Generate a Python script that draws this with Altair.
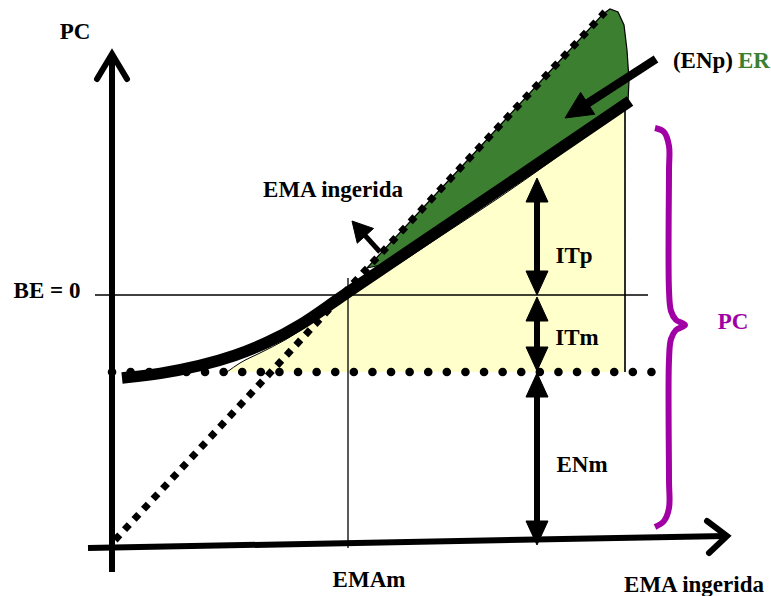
import altair as alt
import pandas as pd
import numpy as np

W, H = 771, 596
FONT = "Liberation Serif"
GREEN = "#3d7f31"
PURPLE = "#a000a4"
YELLOW = "#ffffcc"
FS = 23

# ---- diagram data (pixel-space coordinates of the conceptual chart) ----
curve_x = [122, 160, 200, 235, 267, 300, 333, 348, 420, 520, 630]
curve_y = [378, 374, 366, 356, 343, 326, 302.5, 292, 243.5, 176, 101]

diag_x = [115, 605]
diag_y = [540, 12]

dots_x = [112, 655]
dots_y = [372, 372]

be_x = [95, 648]
be_y = [295, 295]

emam_x = [348, 348]
emam_y = [278, 548]

right_x = [625, 625]
right_y = [106, 372]

yel_x = [227, 240, 260, 285, 310, 348, 400, 450, 500, 550, 600, 625, 625]
yel_y = [372, 363, 353, 340, 324, 296, 263, 230, 197, 162, 125, 107, 372]

green_x = [367, 420, 480, 540, 580, 603, 610, 618, 624, 627, 629, 628, 600, 550, 500, 450, 400, 367]
green_y = [268, 211, 147, 82, 39, 14, 9, 12, 25, 50, 80, 102, 124, 160, 195, 228, 261, 268]

yaxis_x = [112, 112]
yaxis_y = [572, 55]
ychev_x = [97, 112, 127]
ychev_y = [79, 54, 79]

xaxis_x = [88, 726]
xaxis_y = [548, 536]
xchev_x = [707, 727, 709]
xchev_y = [521, 536, 553]

brace_x = [655, 664, 669, 669, 669, 671, 676, 685, 676, 671, 669, 669, 669, 664, 655]
brace_y = [128, 132, 146, 170, 290, 311, 320, 325, 330, 339, 360, 480, 508, 521, 527]

# arrows: (tail_x, tail_y, tip_x, tip_y, head_len, head_width, shaft_width)
arrows = [
    (380, 252, 352, 221, 20, 22, 5),   # EMA ingerida
    (656, 59, 565, 118, 27, 26, 8.5),  # (ENp) ER
    (537, 236, 537, 178, 24, 22, 6),   # ITp up
    (537, 236, 537, 295, 24, 22, 6),   # ITp down
    (537, 334, 537, 297, 24, 22, 6),   # ITm up
    (537, 334, 537, 371, 24, 22, 6),   # ITm down
    (537, 460, 537, 373, 24, 22, 6),   # ENm up
    (537, 460, 537, 545, 24, 22, 6),   # ENm down
]

label_text = ["PC", "BE = 0", "EMA ingerida", "ITp", "ITm", "ENm", "EMAm", "EMA ingerida"]
label_x = [75, 47, 333, 574, 577, 582, 369, 694]
label_y = [32, 291, 190, 256, 338, 465, 580, 585]

# ---- build tables ----
X = alt.X("x:Q", scale=alt.Scale(domain=[0, W], nice=False, zero=False), axis=None)
Y = alt.Y("y:Q", scale=alt.Scale(domain=[0, H], nice=False, zero=False, reverse=True), axis=None)


def seq(xs, ys, grp="a"):
    return pd.DataFrame({"x": xs, "y": ys, "o": range(len(xs)), "g": grp})


def line(xs, ys, **kw):
    return alt.Chart(seq(xs, ys)).mark_line(**kw).encode(x=X, y=Y, order="o:Q")


def poly(df, **kw):
    return alt.Chart(df).mark_line(**kw).encode(x=X, y=Y, order="o:Q", detail="g:N")


shafts = []
heads = []
for i, (tx0, ty0, tx1, ty1, hl, hw, sw) in enumerate(arrows):
    d = np.array([tx1 - tx0, ty1 - ty0], dtype=float)
    d /= np.linalg.norm(d)
    p = np.array([-d[1], d[0]])
    tip = np.array([tx1, ty1], dtype=float)
    base = tip - hl * d
    a = base + p * hw / 2
    b = base - p * hw / 2
    heads.append(seq([tip[0], a[0], b[0], tip[0]], [tip[1], a[1], b[1], tip[1]], f"h{i}"))
    shafts.append((seq([tx0, base[0] + d[0] * 2], [ty0, base[1] + d[1] * 2], f"s{i}"), sw))

layers = []
# fills
layers.append(poly(seq(yel_x, yel_y, "yel"), fill=YELLOW, stroke="black", strokeWidth=1, interpolate="monotone"))
layers.append(poly(seq(green_x, green_y, "grn"), fill=GREEN, stroke="black", strokeWidth=1.2))
# thin lines
layers.append(line(be_x, be_y, color="black", strokeWidth=1.3))
layers.append(line(emam_x, emam_y, color="black", strokeWidth=1.3))
layers.append(line(right_x, right_y, color="black", strokeWidth=1.3))
# dotted lines
layers.append(line(dots_x, dots_y, color="black", strokeWidth=8.5, strokeCap="round", strokeDash=[0.1, 18.5]))
layers.append(line(diag_x, diag_y, color="black", strokeWidth=7, strokeCap="butt", strokeDash=[7, 7]))
# thick curve
layers.append(line(curve_x, curve_y, color="black", strokeWidth=11.5, interpolate="basis", strokeCap="butt"))
# axes
layers.append(line(yaxis_x, yaxis_y, color="black", strokeWidth=6))
layers.append(line(ychev_x, ychev_y, color="black", strokeWidth=6, strokeCap="round", strokeJoin="miter"))
layers.append(line(xaxis_x, xaxis_y, color="black", strokeWidth=6))
layers.append(line(xchev_x, xchev_y, color="black", strokeWidth=6, strokeCap="round", strokeJoin="miter"))
# brace
layers.append(line(brace_x, brace_y, color=PURPLE, strokeWidth=6, interpolate="catmull-rom", strokeCap="butt"))
# arrows
for df, sw in shafts:
    layers.append(alt.Chart(df).mark_line(color="black", strokeWidth=sw).encode(x=X, y=Y, order="o:Q"))
layers.append(poly(pd.concat(heads), fill="black", stroke="black", strokeWidth=1))

# labels
lab = pd.DataFrame({"x": label_x, "y": label_y, "t": label_text})
layers.append(alt.Chart(lab).mark_text(font=FONT, fontWeight="bold", fontSize=FS, color="black",
                                       align="center", baseline="middle").encode(x=X, y=Y, text="t:N"))
layers.append(alt.Chart(pd.DataFrame({"x": [733], "y": [322], "t": ["PC"]})).mark_text(
    font=FONT, fontWeight="bold", fontSize=FS, color=PURPLE, align="center", baseline="middle").encode(x=X, y=Y, text="t:N"))
layers.append(alt.Chart(pd.DataFrame({"x": [733], "y": [61], "t": ["(ENp)"]})).mark_text(
    font=FONT, fontWeight="bold", fontSize=FS, color="black", align="right", baseline="middle").encode(x=X, y=Y, text="t:N"))
layers.append(alt.Chart(pd.DataFrame({"x": [738], "y": [61], "t": ["ER"]})).mark_text(
    font=FONT, fontWeight="bold", fontSize=FS, color=GREEN, align="left", baseline="middle").encode(x=X, y=Y, text="t:N"))

chart = alt.layer(*layers).properties(
    width=W, height=H, padding=0, autosize=alt.AutoSizeParams(type="none"), background="white"
).configure_view(stroke=None)

chart.save("out.html", embed_options={"renderer": "svg", "actions": False})
